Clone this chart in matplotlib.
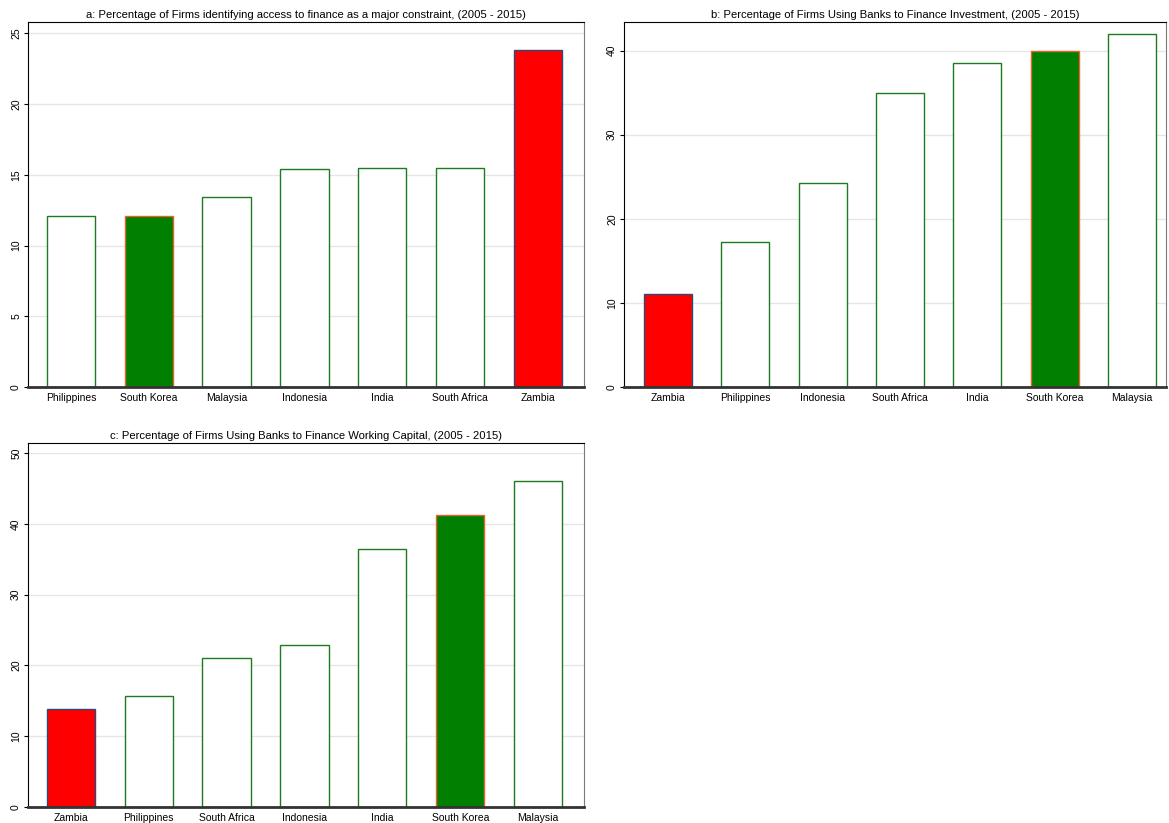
import numpy as np
import matplotlib
matplotlib.use("Agg")
import matplotlib.pyplot as plt

plt.rcParams['font.family'] = ['Liberation Sans', 'DejaVu Sans']

# panel a: access to finance as a major constraint
countries_a = ['Philippines', 'South Korea', 'Malaysia', 'Indonesia', 'India', 'South Africa', 'Zambia']
values_a = [12.1, 12.1, 13.45, 15.4, 15.45, 15.5, 23.8]

# panel b: banks to finance investment
countries_b = ['Zambia', 'Philippines', 'Indonesia', 'South Africa', 'India', 'South Korea', 'Malaysia']
values_b = [11.05, 17.2, 24.2, 34.9, 38.5, 39.9, 42.0]

# panel c: banks to finance working capital
countries_c = ['Zambia', 'Philippines', 'South Africa', 'Indonesia', 'India', 'South Korea', 'Malaysia']
values_c = [13.8, 15.7, 21.1, 22.9, 36.5, 41.2, 46.0]

titles = ['a: Percentage of Firms identifying access to finance as a major constraint, (2005 - 2015)',
          'b: Percentage of Firms Using Banks to Finance Investment, (2005 - 2015)',
          'c: Percentage of Firms Using Banks to Finance Working Capital, (2005 - 2015)']


def bar_style(name):
    if name == 'Zambia':
        return '#ff0000', '#2b4a78'
    if name == 'South Korea':
        return '#007f00', '#e8632c'
    return 'white', '#1e7a1e'


def draw_panel(ax, names, vals, title, yticks, ylim, xlim):
    x = np.arange(len(names))
    for xi, name, v in zip(x, names, vals):
        fc, ec = bar_style(name)
        ax.bar(xi, v, width=0.62, color=fc, edgecolor=ec, linewidth=1.0, zorder=3)
    ax.set_xticks(x)
    ax.set_xticklabels(names, fontsize=7.5)
    ax.set_yticks(yticks)
    ax.set_yticklabels([str(t) for t in yticks], rotation=90, va='center', fontsize=7.5)
    ax.set_ylim(*ylim)
    ax.set_xlim(*xlim)
    ax.yaxis.grid(True, color='#e6e6e6', linewidth=1.0, zorder=0)
    ax.set_axisbelow(True)
    ax.tick_params(axis='x', length=0, pad=4)
    ax.tick_params(axis='y', length=3, width=0.8, pad=2)
    ax.spines['left'].set_color('black')
    ax.spines['top'].set_color('black')
    ax.spines['right'].set_color('#7a7a7a')
    ax.spines['bottom'].set_color('#333333')
    ax.spines['bottom'].set_linewidth(2.0)
    ax.spines['bottom'].set_zorder(4)
    ax.set_title(title, fontsize=8.1, pad=3)


fig = plt.figure(figsize=(11.69, 8.23), dpi=100)

ax1 = fig.add_axes([0.024, 0.5298, 0.4756, 0.4435])
draw_panel(ax1, countries_a, values_a, titles[0], [0, 5, 10, 15, 20, 25], (0, 25.8), (-0.55, 6.59))

ax2 = fig.add_axes([0.5338, 0.5298, 0.4636, 0.4435])
draw_panel(ax2, countries_b, values_b, titles[1], [0, 10, 20, 30, 40], (0, 43.4), (-0.57, 6.44))

ax3 = fig.add_axes([0.024, 0.0194, 0.4756, 0.4423])
draw_panel(ax3, countries_c, values_c, titles[2], [0, 10, 20, 30, 40, 50], (0, 51.4), (-0.55, 6.59))

fig.savefig('out.png', dpi=100, facecolor='white')
